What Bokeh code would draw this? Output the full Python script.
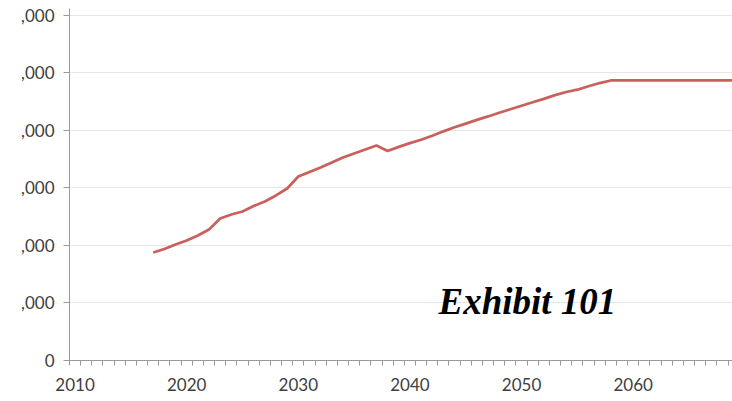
from bokeh.plotting import figure
from bokeh.models import Range1d, FixedTicker, Label, ColumnDataSource
from bokeh.embed import file_html
from bokeh.resources import INLINE

years = list(range(2017, 2070))
values = [18780, 19390, 20170, 20870, 21740, 22780, 24700, 25390, 25910, 26870,
          27650, 28700, 29910, 32000, 32780, 33570, 34430, 35300, 36000, 36700,
          37390, 36430, 37150, 37800, 38400, 39100, 39850, 40550, 41200, 41850,
          42450, 43100, 43700, 44300, 44900, 45500, 46150, 46700, 47100, 47700,
          48250, 48700, 48700, 48700, 48700, 48700, 48700, 48700, 48700, 48700,
          48700, 48700, 48700]
y_ticks = [0, 10000, 20000, 30000, 40000, 50000, 60000]
y_tick_labels = ["0", ",000", ",000", ",000", ",000", ",000", ",000"]
x_label_years = [2010, 2020, 2030, 2040, 2050, 2060]
x_minor = [y - 0.5 for y in range(2010, 2071)]

p = figure(width=732, height=393, output_backend="svg", toolbar_location=None,
           x_range=Range1d(2009.5, 2068.9), y_range=Range1d(0, 61217),
           min_border_left=69, min_border_right=0, min_border_top=8, min_border_bottom=33)
p.outline_line_color = None
p.background_fill_color = "white"
p.border_fill_color = "white"

src = ColumnDataSource(dict(x=years, y=values))
p.line("x", "y", source=src, line_color="#c9605c", line_width=2.7)

# y axis
p.yaxis.ticker = FixedTicker(ticks=y_ticks)
p.yaxis.major_label_overrides = {t: l for t, l in zip(y_ticks, y_tick_labels)}
p.yaxis.axis_line_color = "#9a9a9a"
p.yaxis.major_tick_line_color = "#9a9a9a"
p.yaxis.major_tick_out = 6
p.yaxis.major_tick_in = 0
p.yaxis.minor_tick_line_color = None
p.yaxis.major_label_standoff = 9
p.yaxis.major_label_text_font = "Lato"
p.yaxis.major_label_text_font_size = "17px"
p.yaxis.major_label_text_color = "#404040"

# x axis
p.xaxis.ticker = FixedTicker(ticks=x_label_years, minor_ticks=x_minor)
p.xaxis.axis_line_color = "#9a9a9a"
p.xaxis.major_tick_line_color = None
p.xaxis.major_tick_out = 0
p.xaxis.major_tick_in = 0
p.xaxis.minor_tick_line_color = "#9a9a9a"
p.xaxis.minor_tick_out = 5
p.xaxis.minor_tick_in = 0
p.xaxis.major_label_standoff = 12
p.xaxis.major_label_text_font = "Lato"
p.xaxis.major_label_text_font_size = "17px"
p.xaxis.major_label_text_color = "#404040"

p.xgrid.grid_line_color = None
p.ygrid.ticker = FixedTicker(ticks=y_ticks)
p.ygrid.grid_line_color = "#e6e6e6"
p.ygrid.grid_line_width = 1

lab = Label(x=369, y=59, x_units="screen", y_units="screen", text="Exhibit 101",
            text_font="Liberation Serif", text_font_style="bold italic",
            text_font_size="37px", text_color="black", text_baseline="alphabetic")
p.add_layout(lab)

open("out.html", "w").write(file_html(p, INLINE))
